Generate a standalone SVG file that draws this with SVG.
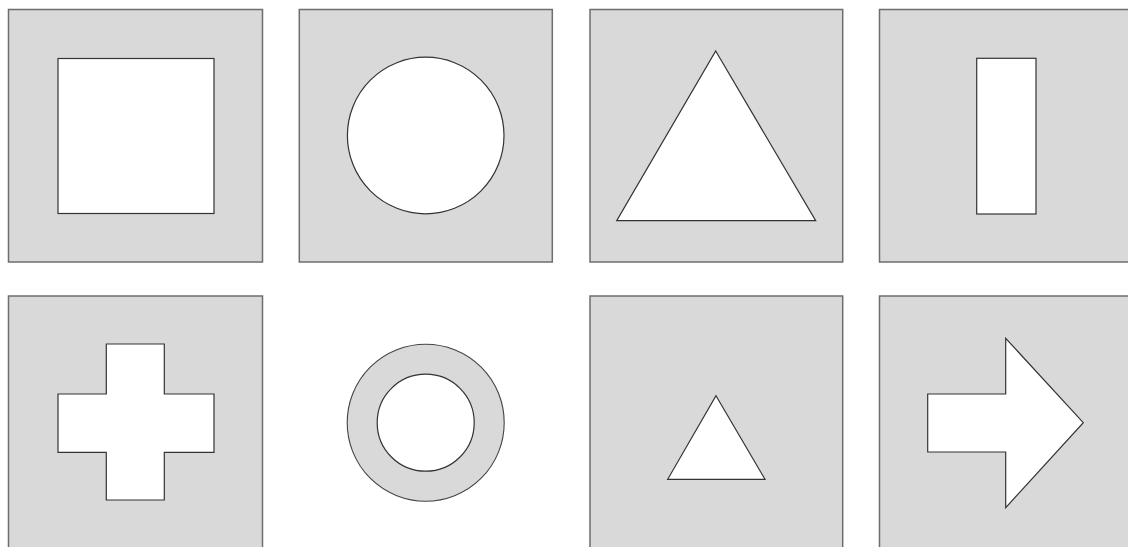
<svg xmlns="http://www.w3.org/2000/svg" width="1128" height="547" viewBox="0 0 1128 547">
<style>
.panel{fill:#d9d9d9;stroke:#6e6e6e;stroke-width:1.5}
.hole{fill:#ffffff;stroke:#333333;stroke-width:1.2;stroke-linejoin:miter}
.ring{fill:#d9d9d9;stroke:#444444;stroke-width:1.1}
</style>
<rect width="1128" height="547" fill="#ffffff"/>
<g id="square">
<rect class="panel" x="8.5" y="9.5" width="254" height="252.5"/>
<rect class="hole" x="58" y="58.5" width="156" height="155"/>
</g>
<g id="circle">
<rect class="panel" x="299.3" y="9.5" width="253" height="252.5"/>
<circle class="hole" cx="425.7" cy="135.5" r="78.3"/>
</g>
<g id="triangle">
<rect class="panel" x="590" y="9.5" width="252.7" height="252.5"/>
<polygon class="hole" points="715.7,51 815.7,220.7 616.7,220.7"/>
</g>
<g id="bar">
<rect class="panel" x="879.5" y="9.5" width="260" height="252.5"/>
<rect class="hole" x="976.7" y="58.3" width="59.3" height="155.7"/>
</g>
<g id="cross">
<rect class="panel" x="8.5" y="296" width="254" height="260"/>
<polygon class="hole" points="106.3,344 164.3,344 164.3,394 214,394 214,452.3 164.3,452.3 164.3,500 106.3,500 106.3,452.3 58,452.3 58,394 106.3,394"/>
</g>
<g id="annulus">
<circle class="ring" cx="425.7" cy="422.7" r="78.5"/>
<circle class="hole" cx="425.7" cy="422.7" r="48.5"/>
</g>
<g id="small-triangle">
<rect class="panel" x="590" y="296" width="252.7" height="260"/>
<polygon class="hole" points="716,395.7 765,479.3 667.7,479.3"/>
</g>
<g id="arrow">
<rect class="panel" x="879.5" y="296" width="260" height="260"/>
<polygon class="hole" points="927.7,394 1005.7,394 1005.7,338.3 1083.3,422.7 1005.7,507.7 1005.7,452 927.7,452"/>
</g>
</svg>
